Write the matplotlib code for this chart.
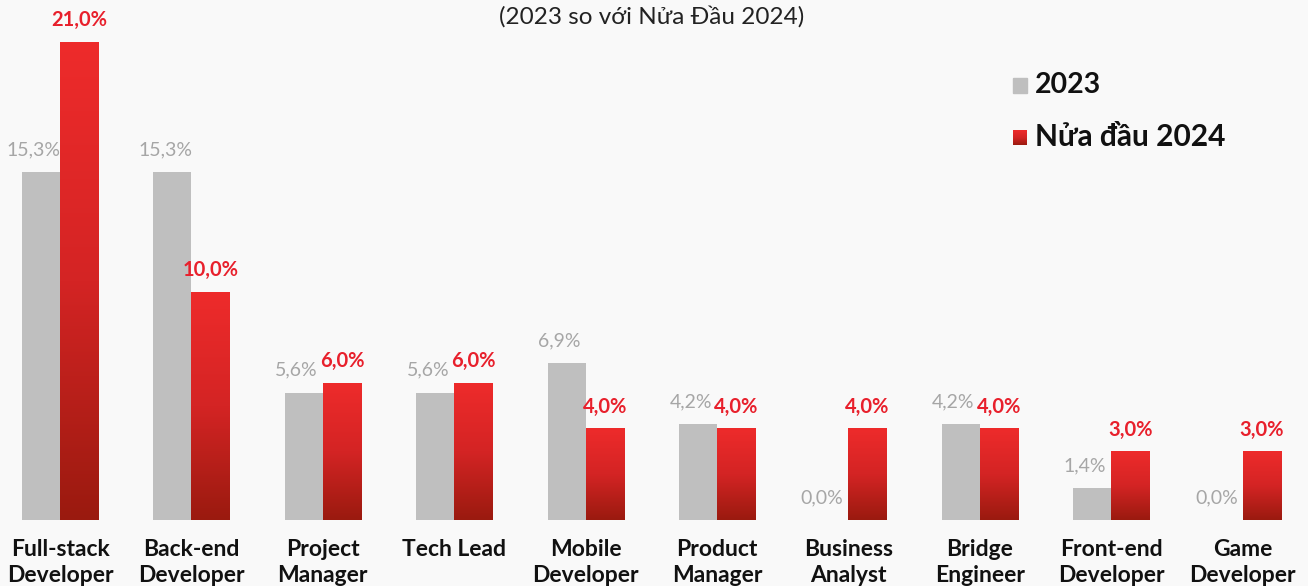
import numpy as np
import matplotlib
matplotlib.use("Agg")
import matplotlib.pyplot as plt
from matplotlib.colors import LinearSegmentedColormap
from matplotlib.patches import Rectangle

categories = ["Full-stack\nDeveloper", "Back-end\nDeveloper", "Project\nManager", "Tech Lead",
              "Mobile\nDeveloper", "Product\nManager", "Business\nAnalyst", "Bridge\nEngineer",
              "Front-end\nDeveloper", "Game\nDeveloper"]
vals_2023 = [15.3, 15.3, 5.6, 5.6, 6.9, 4.2, 0.0, 4.2, 1.4, 0.0]
vals_2024 = [21.0, 10.0, 6.0, 6.0, 4.0, 4.0, 4.0, 4.0, 3.0, 3.0]
series_names = ["2023", "Nửa đầu 2024"]
title = "(2023 so với Nửa Đầu 2024)"

plt.rcParams['font.family'] = ['Lato', 'DejaVu Sans']
BG = "#f9f9f9"
GRAY = "#bfbfbf"
cmap = LinearSegmentedColormap.from_list("red", ["#9a1a0f", "#d42424", "#ee2b2b"])

fig = plt.figure(figsize=(13.08, 5.86), dpi=100, facecolor=BG)
ax = fig.add_axes([0, 66/586, 1, 520/586])
ax.set_facecolor(BG)

x = np.arange(len(categories))
w = 0.29
b1 = ax.bar(x - w/2, vals_2023, w, color=GRAY, zorder=2)
b2 = ax.bar(x + w/2, vals_2024, w, color="none", zorder=2)

grad = np.linspace(0, 1, 256).reshape(-1, 1)
for p in b2:
    x0, y0 = p.get_x(), p.get_y()
    ww, hh = p.get_width(), p.get_height()
    ax.imshow(grad, cmap=cmap, origin="lower", aspect="auto",
              extent=(x0, x0 + ww, y0, y0 + hh), zorder=2)

ax.set_xlim(-0.457, 9.498)
ymax = 21 * 520 / 478
ax.set_ylim(0, ymax)

for xi, v in zip(x, vals_2023):
    ax.annotate(f"{v:.1f}%".replace(".", ","), (xi - w/2 - 0.055, v), xytext=(0, 16),
                textcoords="offset points", ha="center", va="center",
                fontsize=14, color="#a6a6a6")
for xi, v in zip(x, vals_2024):
    ax.annotate(f"{v:.1f}%".replace(".", ","), (xi + w/2, v), xytext=(0, 16),
                textcoords="offset points", ha="center", va="center",
                fontsize=14.5, color="#e8202c", fontweight="bold")

for xi, lab in zip(x, categories):
    ax.text(xi, -19/520 * ymax, lab, ha="center", va="top", fontsize=16.5,
            fontweight="bold", color="#111111", linespacing=1.3, clip_on=False)

for s in ax.spines.values():
    s.set_visible(False)
ax.set_xticks([])
ax.set_yticks([])

fig.text(652/1308, 1 - 17/586, title, ha="center", va="center", fontsize=17.5, color="#222222")

# legend
fig.patches.append(Rectangle((1013/1308, 1 - 93/586), 14/1308, 15/586,
                             transform=fig.transFigure, color=GRAY, figure=fig))
lax = fig.add_axes([1013/1308, 1 - 145/586, 14/1308, 15/586])
lax.imshow(grad, cmap=cmap, origin="lower", aspect="auto", extent=(0, 1, 0, 1))
lax.axis("off")
fig.text(1035/1308, 1 - 85/586, series_names[0], ha="left", va="center",
         fontsize=20.5, fontweight="bold", color="#111111")
fig.text(1035/1308, 1 - 137/586, series_names[1], ha="left", va="center",
         fontsize=21.5, fontweight="bold", color="#111111")

fig.savefig("out.png", dpi=100, facecolor=BG)
